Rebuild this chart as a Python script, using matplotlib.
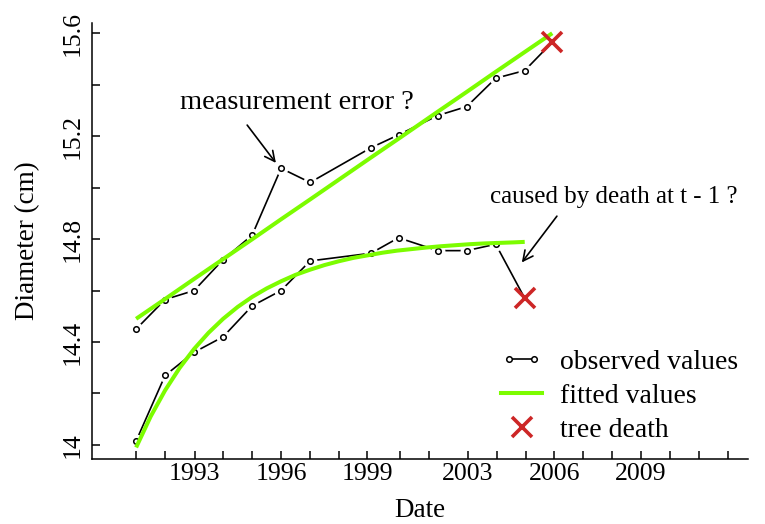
import matplotlib
matplotlib.use("Agg")
import matplotlib.pyplot as plt
from matplotlib.lines import Line2D
from matplotlib.legend_handler import HandlerLine2D

plt.rcParams["font.family"] = ["Liberation Serif", "DejaVu Serif"]

# census dates (decimal years) shared by both trees
census_time = [1991.0, 1992.0, 1993.0, 1994.0, 1995.0, 1996.0, 1997.0,
               1999.1, 2000.05, 2001.4, 2002.4, 2003.4, 2004.4, 2005.35]

# tree A: grows linearly, one suspicious jump in 1996, dies at last census
tree_a_obs = [14.45, 14.565, 14.60, 14.72, 14.815, 15.075, 15.02,
              15.155, 15.205, 15.28, 15.315, 15.425, 15.455]
tree_a_death = 15.565
tree_a_fit = [14.49, 14.567, 14.645, 14.722, 14.799, 14.877, 14.954,
              15.117, 15.19, 15.295, 15.372, 15.45, 15.527, 15.60]

# tree B: saturating growth, drop before death
tree_b_obs = [14.015, 14.27, 14.36, 14.42, 14.54, 14.60, 14.715,
              14.745, 14.805, 14.755, 14.755, 14.78]
tree_b_death = 14.57
fit_b_time = [1991.0, 1991.5, 1992.0, 1992.5, 1993.0, 1993.5, 1994.0, 1994.5,
              1995.0, 1995.5, 1996.0, 1996.5, 1997.0, 1997.5, 1998.0, 1998.5,
              1999.0, 1999.5, 2000.0, 2000.5, 2001.0, 2001.5, 2002.0, 2002.5,
              2003.0, 2003.5, 2004.0, 2004.4]
tree_b_fit = [13.99, 14.11, 14.212, 14.299, 14.373, 14.436, 14.49, 14.536,
              14.575, 14.608, 14.636, 14.661, 14.681, 14.699, 14.714, 14.727,
              14.737, 14.747, 14.755, 14.761, 14.767, 14.772, 14.776, 14.78,
              14.783, 14.785, 14.787, 14.789]

# x axis: a tick per census (plus future ones), year labels on every third
tick_time = [1991.0, 1992.0, 1993.02, 1994.01, 1995.01, 1996.0, 1997.0, 1998.01,
             1998.96, 2000.1, 2001.1, 2002.44, 2003.44, 2004.45, 2005.42,
             2006.42, 2007.42, 2008.41, 2009.41, 2010.41, 2011.41]
year_labels = {1993.02: "1993", 1996.0: "1996", 1998.96: "1999",
               2002.44: "2003", 2005.42: "2006", 2008.41: "2009"}
y_ticks = [14.0, 14.2, 14.4, 14.6, 14.8, 15.0, 15.2, 15.4, 15.6]
y_labels = {14.0: "14", 14.4: "14.4", 14.8: "14.8", 15.2: "15.2", 15.6: "15.6"}

GREEN = "#7CFC00"
RED = "#CD2626"

fig = plt.figure(figsize=(7.65, 5.24), dpi=100)
ax = fig.add_axes([0.1203, 0.1235, 0.8575, 0.8332])


def observed(times, values, death_time, death_value):
    xs = list(times) + [death_time]
    ys = list(values) + [death_value]
    ax.plot(xs, ys, color="black", lw=1.2, zorder=2)
    # white discs give the R type="b" gaps around the points
    ax.plot(times, values, ls="none", marker="o", ms=9, mfc="white",
            mec="white", zorder=3)
    ax.plot(times, values, ls="none", marker="o", ms=4, mfc="white",
            mec="black", mew=1.1, zorder=4)
    ax.plot([death_time], [death_value], ls="none", marker="x", ms=14,
            mew=2.6, color=RED, zorder=6)


n_a = len(tree_a_obs)
n_b = len(tree_b_obs)
observed(census_time[:n_a], tree_a_obs, census_time[n_a], tree_a_death)
observed(census_time[:n_b], tree_b_obs, census_time[n_b], tree_b_death)

ax.plot(census_time, tree_a_fit, color=GREEN, lw=2.9, zorder=5,
        solid_capstyle="butt")
ax.plot(fit_b_time, tree_b_fit, color=GREEN, lw=2.9, zorder=5,
        solid_capstyle="butt")

# annotations
ax.text(1996.55, 15.332, "measurement error ?", fontsize=20.5,
        ha="center", va="center")
ax.annotate("", xy=(1995.82, 15.096), xytext=(1994.83, 15.243),
            arrowprops=dict(arrowstyle="->", lw=1.2, color="black",
                            mutation_scale=18, shrinkA=0, shrinkB=0))
ax.text(2007.47, 14.963, "caused by death at t - 1 ?", fontsize=18,
        ha="center", va="center")
ax.annotate("", xy=(2004.30, 14.709), xytext=(2005.51, 14.889),
            arrowprops=dict(arrowstyle="->", lw=1.2, color="black",
                            mutation_scale=18, shrinkA=0, shrinkB=0))

# axes
ax.set_xlim(1989.48, 2012.1)
ax.set_ylim(13.944, 15.641)
ax.spines["top"].set_visible(False)
ax.spines["right"].set_visible(False)
for s in ("left", "bottom"):
    ax.spines[s].set_linewidth(1.1)

ax.set_xticks(tick_time)
ax.set_xticklabels([year_labels.get(t, "") for t in tick_time])
ax.set_yticks(y_ticks)
ax.set_yticklabels([y_labels.get(v, "") for v in y_ticks])
ax.tick_params(axis="both", direction="in", length=6, width=1.1,
               labelsize=18.5)
ax.tick_params(axis="x", pad=3)
ax.tick_params(axis="y", pad=6)
for lab in ax.get_yticklabels():
    lab.set_rotation(90)
    lab.set_va("center")

ax.set_xlabel("Date", fontsize=19.5)
ax.xaxis.set_label_coords(0.5, -0.089)
ax.set_ylabel("Diameter (cm)", fontsize=19.5)
ax.yaxis.set_label_coords(-0.079, 0.5)

# legend
h_obs = Line2D([], [], color="black", lw=1.2, marker="o", ms=4,
               mfc="white", mec="black", mew=1.1)
h_fit = Line2D([], [], color=GREEN, lw=2.9)
h_death = Line2D([], [], ls="none", marker="x", ms=14, mew=2.6, color=RED)
ax.legend([h_obs, h_fit, h_death],
          ["observed values", "fitted values", "tree death"],
          handler_map={h_obs: HandlerLine2D(numpoints=2)},
          loc="upper left", bbox_to_anchor=(0.623, 0.252),
          frameon=False, fontsize=20, handlelength=1.5,
          handletextpad=0.63, labelspacing=0.31, borderpad=0,
          borderaxespad=0)

fig.savefig("out.png", dpi=100)
